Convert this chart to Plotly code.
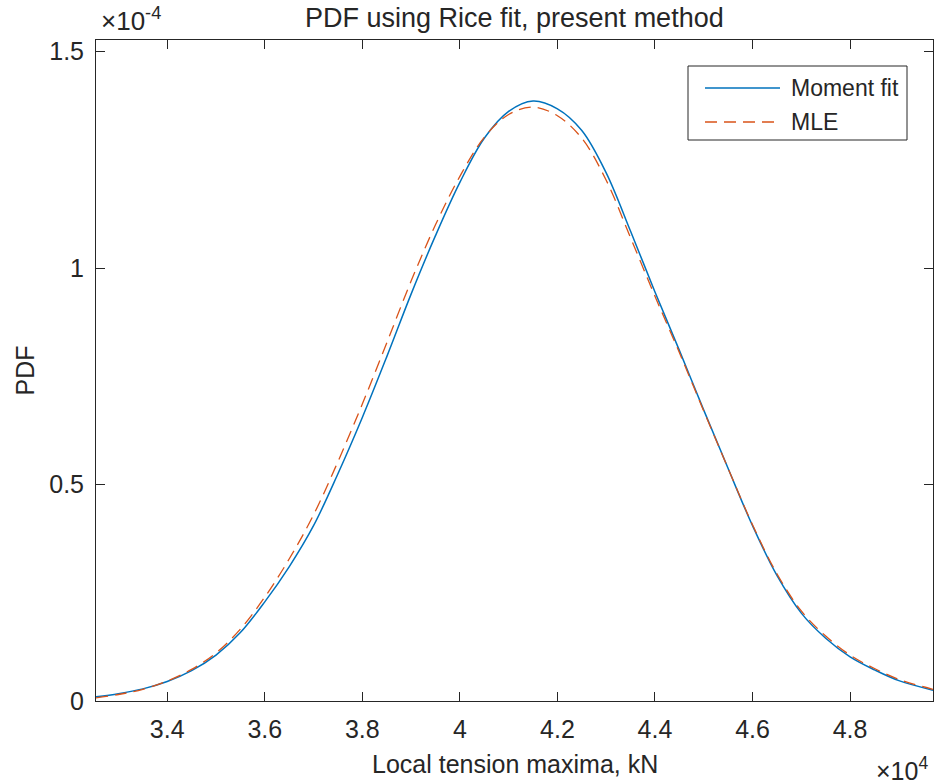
import plotly.graph_objects as go

# ---- data (x in kN, PDF values in units of 1e-4) ----
x_kn = [32540, 33000, 33500, 34000, 34500, 35000, 35500, 36000, 36500, 37000,
        37500, 38000, 38500, 39000, 39500, 40000, 40500, 41000, 41500, 42000,
        42500, 43000, 43500, 44000, 44500, 45000, 45500, 46000, 46500, 47000,
        47500, 48000, 48500, 49000, 49700]

moment_fit = [0.010, 0.017, 0.028, 0.045, 0.070, 0.106, 0.158, 0.229, 0.310, 0.405,
              0.525, 0.655, 0.795, 0.940, 1.075, 1.198, 1.300, 1.362, 1.386, 1.368,
              1.318, 1.220, 1.085, 0.945, 0.810, 0.672, 0.537, 0.405, 0.290, 0.203,
              0.145, 0.102, 0.072, 0.047, 0.025]

mle = [0.007, 0.015, 0.027, 0.046, 0.073, 0.111, 0.166, 0.240, 0.328, 0.430,
       0.553, 0.686, 0.827, 0.970, 1.100, 1.212, 1.302, 1.355, 1.372, 1.352,
       1.300, 1.203, 1.070, 0.935, 0.805, 0.670, 0.537, 0.407, 0.294, 0.208,
       0.150, 0.106, 0.075, 0.050, 0.027]

scale_y = 1e-4
x_ticks = [34000, 36000, 38000, 40000, 42000, 44000, 46000, 48000]
x_ticklabels = ["3.4", "3.6", "3.8", "4", "4.2", "4.4", "4.6", "4.8"]
y_ticks = [0, 0.5e-4, 1e-4, 1.5e-4]
y_ticklabels = ["0", "0.5", "1", "1.5"]
series_names = ["Moment fit", "MLE"]
colors = ["#0072BD", "#D95319"]

x_range = [32540, 49700]
y_range = [0, 1.527e-4]

FONT = "Liberation Sans, Arial, Helvetica, sans-serif"
TXT = "#262626"
DASH = "12px,7px"

# pixel geometry
W, H = 935, 784
L, R, T, B = 96, 2, 40, 83
PW, PH = W - L - R, H - T - B


def px_x(p):
    return (p - L) / PW


def px_y(p):
    return (H - B - p) / PH


fig = go.Figure()
fig.add_trace(go.Scatter(x=x_kn, y=[v * scale_y for v in moment_fit], mode="lines",
                         line=dict(color=colors[0], width=1.5, shape="spline", smoothing=1.0),
                         name=series_names[0], showlegend=False))
fig.add_trace(go.Scatter(x=x_kn, y=[v * scale_y for v in mle], mode="lines",
                         line=dict(color=colors[1], width=1.3, dash=DASH, shape="spline", smoothing=1.0),
                         name=series_names[1], showlegend=False))

axis_common = dict(showgrid=False, zeroline=False, showline=True, linecolor=TXT,
                   linewidth=1, mirror="ticks", ticks="inside", ticklen=9,
                   tickcolor=TXT, tickwidth=1,
                   tickfont=dict(family=FONT, size=25, color=TXT))

fig.update_xaxes(range=x_range, tickvals=x_ticks, ticktext=x_ticklabels,
                 ticklabelstandoff=6, **axis_common)
fig.update_yaxes(range=y_range, tickvals=y_ticks, ticktext=y_ticklabels,
                 ticklabelstandoff=6, **axis_common)

annotations = [
    dict(text="PDF using Rice fit, present method", xref="paper", yref="paper",
         x=0.5, y=1, yshift=22, xanchor="center", yanchor="middle", showarrow=False,
         font=dict(family=FONT, size=27, color=TXT)),
    dict(text="Local tension maxima, kN", xref="paper", yref="paper",
         x=0.5, y=0, yshift=-63, xanchor="center", yanchor="middle", showarrow=False,
         font=dict(family=FONT, size=25, color=TXT)),
    dict(text="PDF", xref="paper", yref="paper", textangle=-90,
         x=0, xshift=-72, y=0.5, xanchor="center", yanchor="middle", showarrow=False,
         font=dict(family=FONT, size=25, color=TXT)),
    dict(text="×10<sup>-4</sup>", xref="paper", yref="paper",
         x=px_x(99), y=1, yshift=2, xanchor="left", yanchor="bottom", showarrow=False,
         font=dict(family=FONT, size=26, color=TXT)),
    dict(text="×10<sup>4</sup>", xref="paper", yref="paper",
         x=px_x(930), y=0, yshift=-50, xanchor="right", yanchor="top", showarrow=False,
         font=dict(family=FONT, size=25, color=TXT)),
]

# legend drawn manually to match the reference's long line samples
shapes = [
    dict(type="rect", xref="paper", yref="paper", x0=px_x(688), x1=px_x(907),
         y0=px_y(140), y1=px_y(66), line=dict(color=TXT, width=1), fillcolor="white"),
]
legend_rows = [88, 122]
dashes = ["solid", DASH]
for name, col, dsh, row in zip(series_names, colors, dashes, legend_rows):
    shapes.append(dict(type="line", xref="paper", yref="paper", x0=px_x(705), x1=px_x(780),
                       y0=px_y(row), y1=px_y(row), line=dict(color=col, width=1.5, dash=dsh)))
    annotations.append(dict(text=name, xref="paper", yref="paper", x=px_x(789), y=px_y(row),
                            xanchor="left", yanchor="middle", showarrow=False,
                            font=dict(family=FONT, size=23, color=TXT)))

fig.update_layout(width=W, height=H, margin=dict(l=L, r=R, t=T, b=B, pad=0),
                  paper_bgcolor="white", plot_bgcolor="white",
                  annotations=annotations, shapes=shapes, showlegend=False)

fig.write_html("out.html", config={"displayModeBar": False},
               post_script="document.body.style.margin='0';document.body.style.overflow='hidden';")
